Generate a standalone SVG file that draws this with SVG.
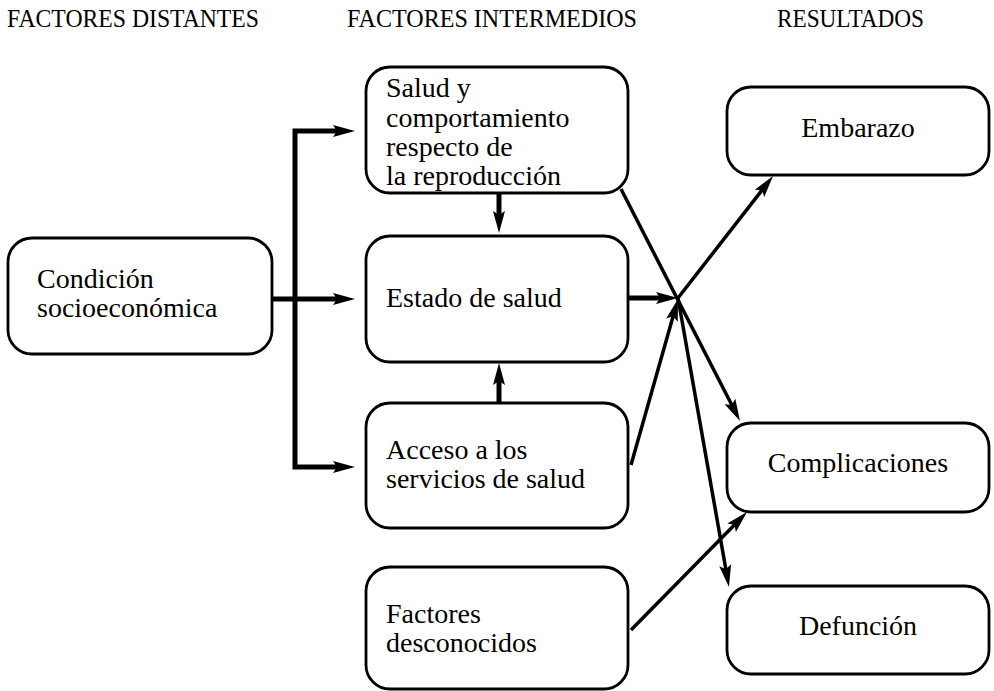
<svg xmlns="http://www.w3.org/2000/svg" width="994" height="691" viewBox="0 0 994 691">
<style>
.box{fill:#fff;stroke:#000;stroke-width:2.8}
.t{font-family:"Liberation Serif","Times New Roman",serif;font-size:28px;fill:#000}
.h{font-family:"Liberation Serif","Times New Roman",serif;font-size:25px;fill:#000}
.c{text-anchor:middle}
.thick{fill:none;stroke:#000;stroke-width:5}
.thin{fill:none;stroke:#000;stroke-width:3.5}
</style>
<defs>
<marker id="ah" markerUnits="userSpaceOnUse" markerWidth="22" markerHeight="12" refX="6" refY="6" orient="auto-start-reverse" overflow="visible">
<path d="M0,0 L22,6 L0,12 L4,6 Z" fill="#000"/>
</marker>
</defs>
<g id="headers">
<text class="h" x="7" y="27" textLength="252" lengthAdjust="spacingAndGlyphs">FACTORES DISTANTES</text>
<text class="h" x="347" y="27" textLength="290" lengthAdjust="spacingAndGlyphs">FACTORES INTERMEDIOS</text>
<text class="h" x="777" y="27" textLength="147" lengthAdjust="spacingAndGlyphs">RESULTADOS</text>
</g>
<g id="connectors">
<path class="thick" d="M339,131 H295 V467 H339" marker-start="url(#ah)" marker-end="url(#ah)"/>
<path class="thick" d="M272,299 H339" marker-end="url(#ah)"/>
<path class="thick" d="M499,193 V217" marker-end="url(#ah)"/>
<path class="thick" d="M499,403 V379" marker-end="url(#ah)"/>
<path class="thick" d="M628,298 H662" marker-end="url(#ah)"/>
<path class="thin" d="M631,465 L673.6,314.4" marker-end="url(#ah)"/>
<path class="thin" d="M621,189 L732.7,406.8" marker-end="url(#ah)"/>
<path class="thin" d="M678,298 L763.2,188.6" marker-end="url(#ah)"/>
<path class="thin" d="M678,298 L726.2,571.2" marker-end="url(#ah)"/>
<path class="thin" d="M631,630 L735.8,523.4" marker-end="url(#ah)"/>
</g>
<g id="condicion">
<rect class="box" x="8" y="238" width="264" height="116" rx="24"/>
<text class="t" x="37" y="288">Condición</text>
<text class="t" x="37" y="317">socioeconómica</text>
</g>
<g id="salud">
<rect class="box" x="366" y="67" width="262" height="126" rx="24"/>
<text class="t" x="386" y="97">Salud y</text>
<text class="t" x="386" y="127">comportamiento</text>
<text class="t" x="386" y="156">respecto de</text>
<text class="t" x="386" y="185">la reproducción</text>
</g>
<g id="estado">
<rect class="box" x="366" y="236" width="262" height="126" rx="24"/>
<text class="t" x="386" y="307">Estado de salud</text>
</g>
<g id="acceso">
<rect class="box" x="366" y="403" width="262" height="125" rx="24"/>
<text class="t" x="386" y="459">Acceso a los</text>
<text class="t" x="386" y="488">servicios de salud</text>
</g>
<g id="desconocidos">
<rect class="box" x="366" y="567" width="262" height="122" rx="24"/>
<text class="t" x="386" y="623">Factores</text>
<text class="t" x="386" y="652">desconocidos</text>
</g>
<g id="embarazo">
<rect class="box" x="727" y="87" width="262" height="88" rx="24"/>
<text class="t c" x="858" y="137">Embarazo</text>
</g>
<g id="complicaciones">
<rect class="box" x="727" y="423" width="262" height="89" rx="24"/>
<text class="t c" x="858" y="472">Complicaciones</text>
</g>
<g id="defuncion">
<rect class="box" x="727" y="586" width="262" height="88" rx="24"/>
<text class="t c" x="858" y="635">Defunción</text>
</g>
</svg>
